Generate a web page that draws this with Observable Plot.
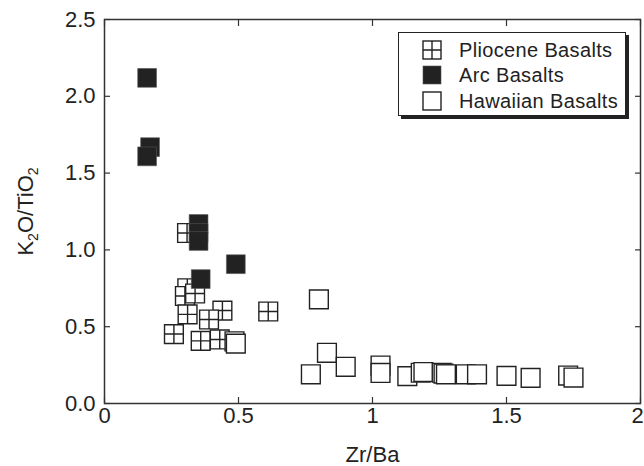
<!DOCTYPE html>
<html>
<head>
<meta charset="utf-8">
<script src="https://cdn.jsdelivr.net/npm/d3@7"></script>
<script src="https://cdn.jsdelivr.net/npm/@observablehq/plot@0.6"></script>
<style>
  html, body { margin: 0; padding: 0; background: #fff; }
  #wrap { position: relative; width: 644px; height: 466px; font-family: "Liberation Sans", Arial, Helvetica, sans-serif; }
  #legend { position: absolute; left: 398px; top: 32px; width: 228px; height: 84px; box-sizing: border-box;
            border: 1.5px solid #222; background: #fff; box-shadow: 3px 3px 0 #222; }
  .row { position: absolute; left: 0; height: 20px; display: flex; align-items: center; }
  .row svg { position: absolute; left: 23px; }
  .row span { position: absolute; left: 60px; font-size: 20px; letter-spacing: 0.35px; color: #222; white-space: nowrap; line-height: 20px; }
</style>
</head>
<body>
<div id="wrap"></div>
<script>
// ---- data ----
const plioceneX = [0.308, 0.309, 0.300, 0.338, 0.310, 0.440, 0.390, 0.259, 0.359, 0.430, 0.611];
const plioceneY = [1.11, 0.75, 0.70, 0.716, 0.58, 0.605, 0.547, 0.452, 0.408, 0.417, 0.599];

const arcX = [0.159, 0.170, 0.159, 0.351, 0.351, 0.351, 0.490, 0.359];
const arcY = [2.12, 1.669, 1.609, 1.169, 1.11, 1.058, 0.907, 0.81];

const hawaiianX = [0.485, 0.49, 0.80, 0.77, 0.83, 0.90, 1.03, 1.03, 1.13, 1.18, 1.19, 1.258, 1.265, 1.274, 1.348, 1.39, 1.50, 1.59, 1.73, 1.75];
const hawaiianY = [0.405, 0.39, 0.678, 0.19, 0.33, 0.239, 0.247, 0.199, 0.178, 0.20, 0.205, 0.20, 0.195, 0.19, 0.19, 0.19, 0.18, 0.167, 0.182, 0.169];

const seriesNames = ["Pliocene Basalts", "Arc Basalts", "Hawaiian Basalts"];

const xTicks = [0, 0.5, 1, 1.5, 2];
const xTickLabels = ["0", "0.5", "1", "1.5", "2"];
const yTicks = [0, 0.5, 1, 1.5, 2, 2.5];
const yTickLabels = ["0.0", "0.5", "1.0", "1.5", "2.0", "2.5"];

const xLabel = "Zr/Ba";
const yLabel = "K2O/TiO2";

// ---- build ----
const toRows = (xs, ys) => xs.map((x, i) => ({x, y: ys[i]}));
const pliocene = toRows(plioceneX, plioceneY);
const arc = toRows(arcX, arcY);
const hawaiian = toRows(hawaiianX, hawaiianY);

const squarePlus = {
  draw(ctx, size) {
    const w = Math.sqrt(size) / 2;
    ctx.moveTo(-w, -w); ctx.lineTo(w, -w); ctx.lineTo(w, w); ctx.lineTo(-w, w); ctx.closePath();
    ctx.moveTo(0, -w); ctx.lineTo(0, w);
    ctx.moveTo(-w, 0); ctx.lineTo(w, 0);
  }
};

const R = 10.6;
const ink = "#222";

const plot = Plot.plot({
  width: 644,
  height: 466,
  marginLeft: 104,
  marginRight: 4,
  marginTop: 19,
  marginBottom: 63,
  style: {fontFamily: "'Liberation Sans', Arial, Helvetica, sans-serif", fontSize: "22px", color: ink, background: "white", overflow: "hidden"},
  x: {domain: [0, 2]},
  y: {domain: [0, 2.5]},
  marks: [
    Plot.dot(pliocene, {x: "x", y: "y", symbol: squarePlus, r: R, fill: "white", stroke: ink, strokeWidth: 1.4}),
    Plot.dot(hawaiian, {x: "x", y: "y", symbol: "square", r: R, fill: "white", stroke: ink, strokeWidth: 1.4}),
    Plot.dot(arc, {x: "x", y: "y", symbol: "square", r: R, fill: ink, stroke: "#555", strokeWidth: 0.6}),
    Plot.axisX(xTicks, {anchor: "bottom", tickSize: -6, tickPadding: 10, tickFormat: d => xTickLabels[xTicks.indexOf(d)],
      label: xLabel, labelAnchor: "center", labelOffset: 58, labelArrow: "none", stroke: "#333", strokeWidth: 1.2}),
    Plot.axisX(xTicks, {anchor: "top", tickSize: -6, tickFormat: null, text: null, label: null, stroke: "#333", strokeWidth: 1.2}),
    Plot.axisY(yTicks, {anchor: "left", tickSize: -6, tickPadding: 15, tickFormat: d => yTickLabels[yTicks.indexOf(d)],
      label: yLabel, labelAnchor: "center", labelOffset: 87, labelArrow: "none", stroke: "#333", strokeWidth: 1.2}),
    Plot.axisY(yTicks, {anchor: "right", tickSize: -6, tickFormat: null, text: null, label: null, stroke: "#333", strokeWidth: 1.2}),
    Plot.frame({stroke: "#333", strokeWidth: 1.5})
  ]
});

// subscripts in the y label
d3.select(plot).selectAll("text").filter(function() { return this.textContent === yLabel; }).each(function() {
  const t = d3.select(this);
  t.text(null);
  t.append("tspan").text("K");
  t.append("tspan").attr("font-size", 14).attr("dy", 5).text("2");
  t.append("tspan").attr("dy", -5).text("O/TiO");
  t.append("tspan").attr("font-size", 14).attr("dy", 5).text("2");
});

// keep the last x tick label inside the picture edge
const lastX = xTickLabels[xTickLabels.length - 1];
d3.select(plot).selectAll("text").filter(function() { return this.textContent === lastX; }).attr("dx", -3);

const wrap = document.getElementById("wrap");
wrap.appendChild(plot);

// legend
const legend = document.createElement("div");
legend.id = "legend";
const symbols = [
  `<rect x="1" y="1" width="18" height="18" fill="white" stroke="${ink}" stroke-width="1.4"/><path d="M10 1V19M1 10H19" stroke="${ink}" stroke-width="1.4"/>`,
  `<rect x="1" y="1" width="18" height="18" fill="${ink}" stroke="#555" stroke-width="0.6"/>`,
  `<rect x="1" y="1" width="18" height="18" fill="white" stroke="${ink}" stroke-width="1.4"/>`
];
const rowTops = [7, 32, 58];
seriesNames.forEach((name, i) => {
  const row = document.createElement("div");
  row.className = "row";
  row.style.top = rowTops[i] + "px";
  row.innerHTML = `<svg width="20" height="20" viewBox="0 0 20 20">${symbols[i]}</svg><span>${name}</span>`;
  legend.appendChild(row);
});
wrap.appendChild(legend);
</script>
</body>
</html>
